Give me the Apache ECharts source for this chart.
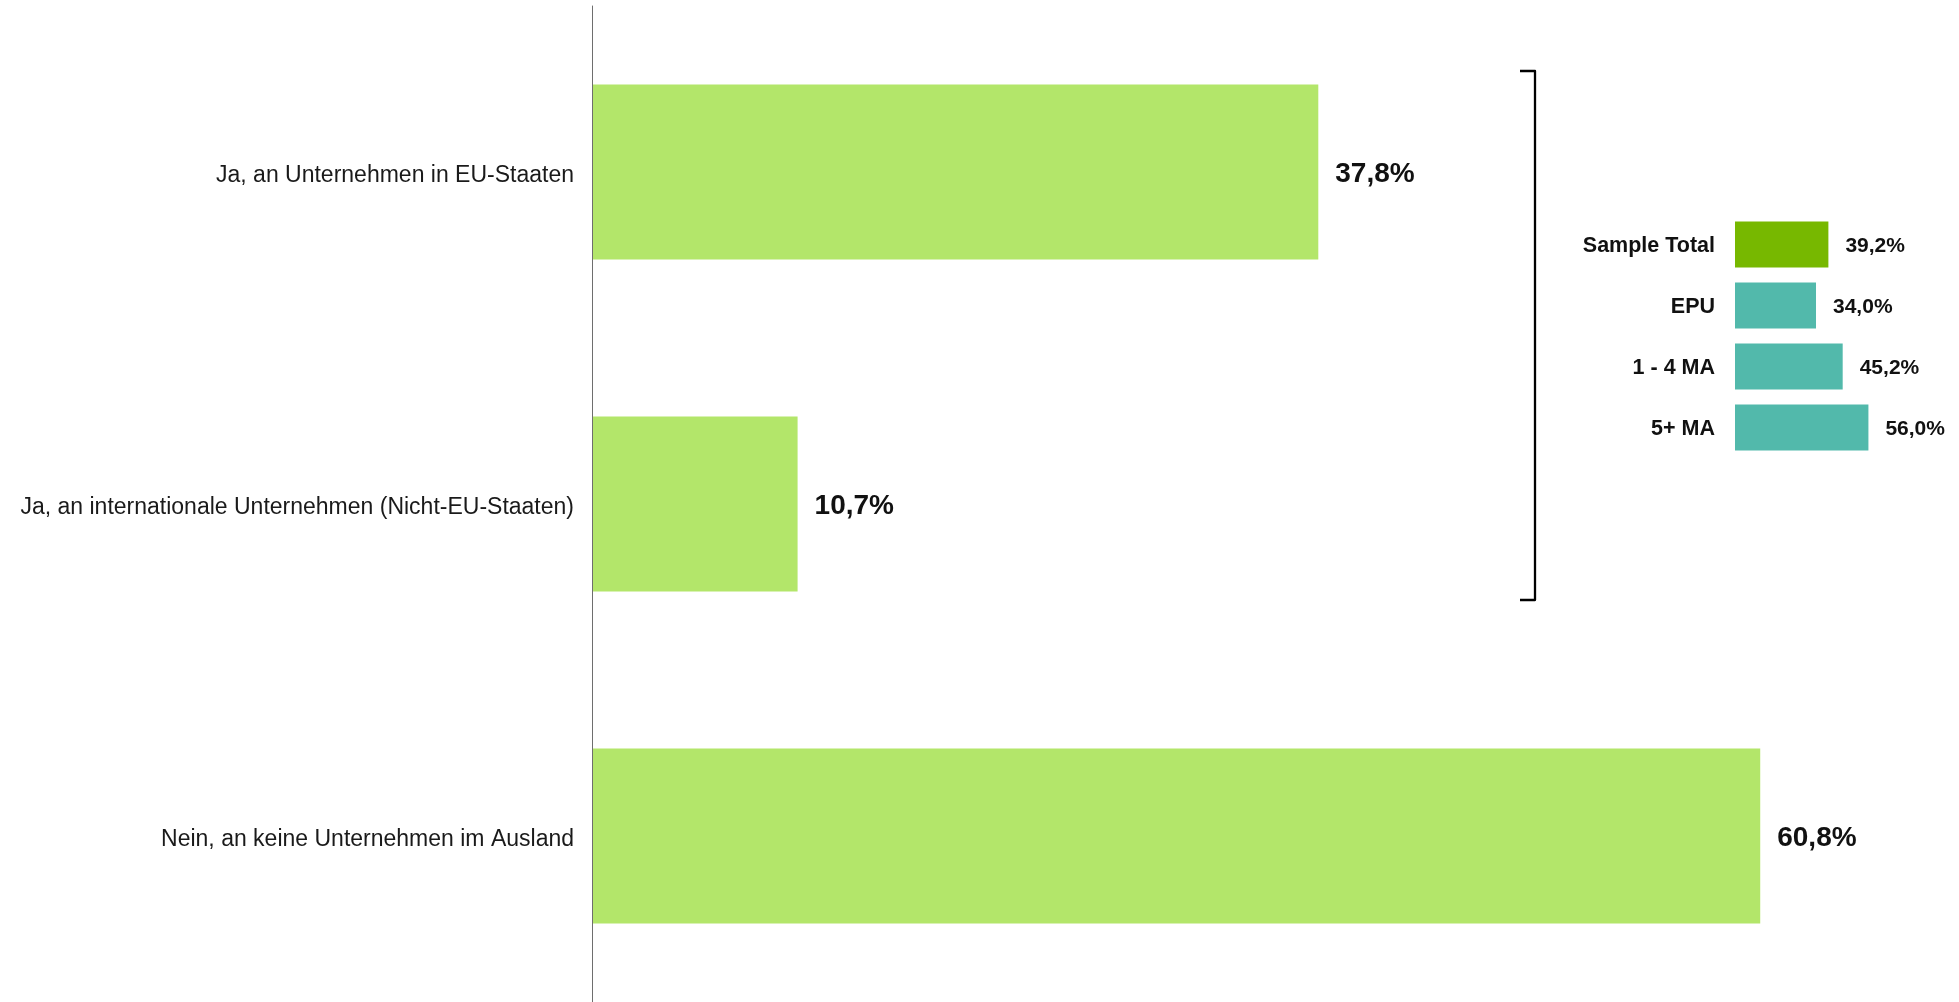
<!DOCTYPE html>
<html>
<head>
<meta charset="utf-8">
<style>
  html, body { margin: 0; padding: 0; background: #ffffff; }
  #chart { width: 1959px; height: 1002px; }
</style>
<script src="https://cdn.jsdelivr.net/npm/echarts@6/dist/echarts.min.js"></script>
</head>
<body>
<div id="chart"></div>
<script>
// Main question: answers and shares (%)
const answerCategories = [
  'Ja, an Unternehmen in EU-Staaten',
  'Ja, an internationale Unternehmen (Nicht-EU-Staaten)',
  'Nein, an keine Unternehmen im Ausland'
];
const answerValues = [37.8, 10.7, 60.8];

// Breakdown of "Ja" answers by company size
const groupCategories = ['Sample Total', 'EPU', '1 - 4 MA', '5+ MA'];
const groupValues = [39.2, 34.0, 45.2, 56.0];

const FONT = '"Liberation Sans", Arial, Helvetica, sans-serif';
const fmt = v => v.toFixed(1).replace('.', ',') + '%';

const chart = echarts.init(document.getElementById('chart'), null, { renderer: 'canvas' });

chart.setOption({
  backgroundColor: '#ffffff',
  animation: false,
  grid: [
    { left: 592, top: 6, width: 1345, height: 999, containLabel: false },
    { left: 1735, top: 214, width: 190.6, height: 244, containLabel: false }
  ],
  xAxis: [
    { gridIndex: 0, type: 'value', min: 0, max: 70, show: false },
    { gridIndex: 1, type: 'value', min: 0, max: 80, show: false }
  ],
  yAxis: [
    {
      gridIndex: 0,
      type: 'category',
      inverse: true,
      z: 5,
      data: answerCategories,
      axisLine: { show: true, lineStyle: { color: '#6e6e6e', width: 1 } },
      axisTick: { show: false },
      splitLine: { show: false },
      axisLabel: {
        margin: 18,
        color: '#1a1a1a',
        fontFamily: FONT,
        fontSize: 23,
        verticalAlign: 'top',
        lineHeight: 7
      }
    },
    {
      gridIndex: 1,
      type: 'category',
      inverse: true,
      data: groupCategories,
      axisLine: { show: false },
      axisTick: { show: false },
      splitLine: { show: false },
      axisLabel: {
        margin: 20,
        color: '#111111',
        fontFamily: FONT,
        fontSize: 21.5,
        fontWeight: 'bold',
        verticalAlign: 'top',
        lineHeight: 4
      }
    }
  ],
  series: [
    {
      type: 'bar',
      xAxisIndex: 0,
      yAxisIndex: 0,
      data: answerValues,
      barWidth: 175,
      itemStyle: { color: '#b3e66a' },
      label: {
        show: true,
        position: 'right',
        distance: 17,
        offset: [0, 2],
        color: '#111111',
        fontFamily: FONT,
        fontSize: 28,
        fontWeight: 'bold',
        formatter: p => fmt(p.value)
      }
    },
    {
      type: 'bar',
      xAxisIndex: 1,
      yAxisIndex: 1,
      data: groupValues.map((v, i) => ({
        value: v,
        itemStyle: { color: i === 0 ? '#77b800' : '#52b9ab' }
      })),
      barWidth: 46,
      label: {
        show: true,
        position: 'right',
        distance: 17,
        offset: [0, 2],
        color: '#111111',
        fontFamily: FONT,
        fontSize: 21,
        fontWeight: 'bold',
        formatter: p => fmt(p.value)
      }
    }
  ],
  // Bracket linking the two "Ja" answers to the size breakdown
  graphic: [
    {
      type: 'polyline',
      shape: { points: [[1520, 71], [1535, 71], [1535, 600], [1520, 600]] },
      style: { stroke: '#000000', lineWidth: 2.3, fill: null, lineJoin: 'round' }
    }
  ]
});
</script>
</body>
</html>
